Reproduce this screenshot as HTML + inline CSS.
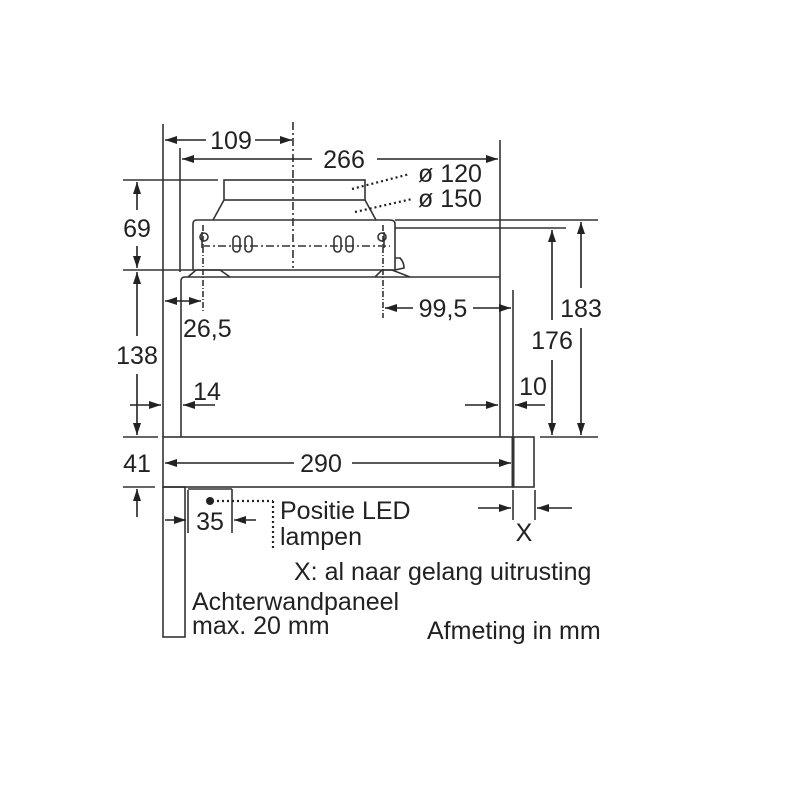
<!DOCTYPE html>
<html><head><meta charset="utf-8"><style>
html,body{margin:0;padding:0;background:#fff;width:800px;height:800px;overflow:hidden}
text{font-family:"Liberation Sans",sans-serif;fill:#222;font-size:25px}
</style></head><body>
<svg width="800" height="800" viewBox="0 0 800 800" xmlns="http://www.w3.org/2000/svg">
<defs>
<marker id="a" viewBox="0 0 12 10" refX="12" refY="5" markerWidth="12" markerHeight="10" markerUnits="userSpaceOnUse" orient="auto-start-reverse"><path d="M0,1 L12,5 L0,9 z" fill="#222"/></marker>
</defs>
<g stroke="#333" stroke-width="1.6" fill="none">
<line x1="163" y1="124" x2="163" y2="437"/>
<line x1="180" y1="148" x2="180" y2="272"/>
<line x1="293" y1="122" x2="293" y2="268" stroke-dasharray="8,3,2,3"/>
<rect x="224" y="180" width="141" height="20"/>
<path d="M224,200 L213,220 M365,200 L376,220"/>
<line x1="123" y1="180" x2="218" y2="180"/>
<path d="M193,270 L193,224 Q193,220 197,220 L390,220 Q395,220 395,224 L395,270 Z"/>
<path d="M395,258 L400,258 Q404,262 404,268 L395,270"/>
<line x1="123" y1="270" x2="193" y2="270"/>
<path d="M188,277 L196,270 L220,270 L230,277 M375,277 L382,270 L392,270 L410,277"/>
<line x1="395" y1="220" x2="598" y2="220"/>
<line x1="395" y1="228" x2="566" y2="228"/>
<line x1="202" y1="246" x2="390" y2="246" stroke-dasharray="8,3,2,3"/>
<path d="M202,232 v16 M384,232 v16"/>
<circle cx="204" cy="237" r="4"/><circle cx="382" cy="237" r="4"/>
<rect x="233" y="236" width="7" height="16" rx="3.5"/><rect x="245" y="236" width="7" height="16" rx="3.5"/>
<rect x="334" y="236" width="7" height="16" rx="3.5"/><rect x="346" y="236" width="7" height="16" rx="3.5"/>
<path d="M181,437 L181,281 Q181,277 185,277 L500,277"/>
<line x1="500" y1="140" x2="500" y2="437"/>
<line x1="513" y1="290" x2="513" y2="437"/>
<line x1="203" y1="225" x2="203" y2="312" stroke-dasharray="6,2,1,2"/>
<line x1="383" y1="225" x2="383" y2="318" stroke-dasharray="6,2,1,2"/>
<line x1="123" y1="437" x2="158" y2="437"/>
<line x1="540" y1="437" x2="598" y2="437"/>
<rect x="163" y="437" width="350" height="50"/>
<rect x="513" y="437" width="21" height="50"/>
<line x1="513" y1="437" x2="513" y2="487" stroke-width="3"/>
<line x1="123" y1="487" x2="155" y2="487"/>
<rect x="163" y="487" width="22" height="150"/>
<line x1="188" y1="490" x2="188" y2="533"/>
<line x1="232" y1="489" x2="232" y2="533"/>
<line x1="188" y1="489" x2="232" y2="489"/>
<line x1="513" y1="490" x2="513" y2="520"/>
<line x1="535" y1="490" x2="535" y2="520"/>
</g>
<g stroke="#222" stroke-width="2.2" fill="none" stroke-dasharray="2,3">
<line x1="352" y1="189" x2="410" y2="174"/>
<line x1="355" y1="212" x2="412" y2="199"/>
<line x1="212" y1="501" x2="273" y2="501"/>
<line x1="273" y1="501" x2="273" y2="548"/>
</g>
<circle cx="210" cy="501" r="4" fill="#222"/>
<g stroke="#222" stroke-width="1.6" fill="none">
<line x1="165" y1="140" x2="206" y2="140" marker-start="url(#a)"/>
<line x1="255" y1="140" x2="292" y2="140" marker-end="url(#a)"/>
<line x1="182" y1="159" x2="312" y2="159" marker-start="url(#a)"/>
<line x1="377" y1="159" x2="498" y2="159" marker-end="url(#a)"/>
<line x1="137" y1="182" x2="137" y2="210" marker-start="url(#a)"/>
<line x1="137" y1="246" x2="137" y2="268" marker-end="url(#a)"/>
<line x1="137" y1="272" x2="137" y2="336" marker-start="url(#a)"/>
<line x1="137" y1="374" x2="137" y2="435" marker-end="url(#a)"/>
<line x1="165" y1="301" x2="201" y2="301" marker-start="url(#a)" marker-end="url(#a)"/>
<line x1="385" y1="308" x2="413" y2="308" marker-start="url(#a)"/>
<line x1="473" y1="308" x2="511" y2="308" marker-end="url(#a)"/>
<line x1="581" y1="222" x2="581" y2="288" marker-start="url(#a)"/>
<line x1="581" y1="328" x2="581" y2="435" marker-end="url(#a)"/>
<line x1="552" y1="230" x2="552" y2="320" marker-start="url(#a)"/>
<line x1="552" y1="360" x2="552" y2="435" marker-end="url(#a)"/>
<line x1="130" y1="405" x2="161" y2="405" marker-end="url(#a)"/>
<line x1="215" y1="405" x2="183" y2="405" marker-end="url(#a)"/>
<line x1="465" y1="405" x2="498" y2="405" marker-end="url(#a)"/>
<line x1="545" y1="405" x2="515" y2="405" marker-end="url(#a)"/>
<line x1="137" y1="517" x2="137" y2="489" marker-end="url(#a)"/>
<line x1="165" y1="463" x2="294" y2="463" marker-start="url(#a)"/>
<line x1="352" y1="463" x2="511" y2="463" marker-end="url(#a)"/>
<line x1="165" y1="520" x2="186" y2="520" marker-end="url(#a)"/>
<line x1="256" y1="520" x2="234" y2="520" marker-end="url(#a)"/>
<line x1="478" y1="508" x2="511" y2="508" marker-end="url(#a)"/>
<line x1="572" y1="508" x2="537" y2="508" marker-end="url(#a)"/>
</g>
<text x="231" y="149" text-anchor="middle">109</text>
<text x="344" y="168" text-anchor="middle">266</text>
<text x="418" y="182">ø 120</text>
<text x="418" y="207">ø 150</text>
<text x="137" y="237" text-anchor="middle">69</text>
<text x="137" y="364" text-anchor="middle">138</text>
<text x="183" y="337">26,5</text>
<text x="443" y="317" text-anchor="middle">99,5</text>
<text x="581" y="317" text-anchor="middle">183</text>
<text x="552" y="349" text-anchor="middle">176</text>
<text x="207" y="400" text-anchor="middle">14</text>
<text x="533" y="395" text-anchor="middle">10</text>
<text x="137" y="472" text-anchor="middle">41</text>
<text x="321" y="472" text-anchor="middle">290</text>
<text x="210" y="530" text-anchor="middle">35</text>
<text x="280" y="519">Positie LED</text>
<text x="280" y="545">lampen</text>
<text x="524" y="541" text-anchor="middle">X</text>
<text x="294" y="580">X: al naar gelang uitrusting</text>
<text x="192" y="610">Achterwandpaneel</text>
<text x="192" y="634">max. 20 mm</text>
<text x="427" y="639">Afmeting in mm</text>
</svg>
</body></html>
